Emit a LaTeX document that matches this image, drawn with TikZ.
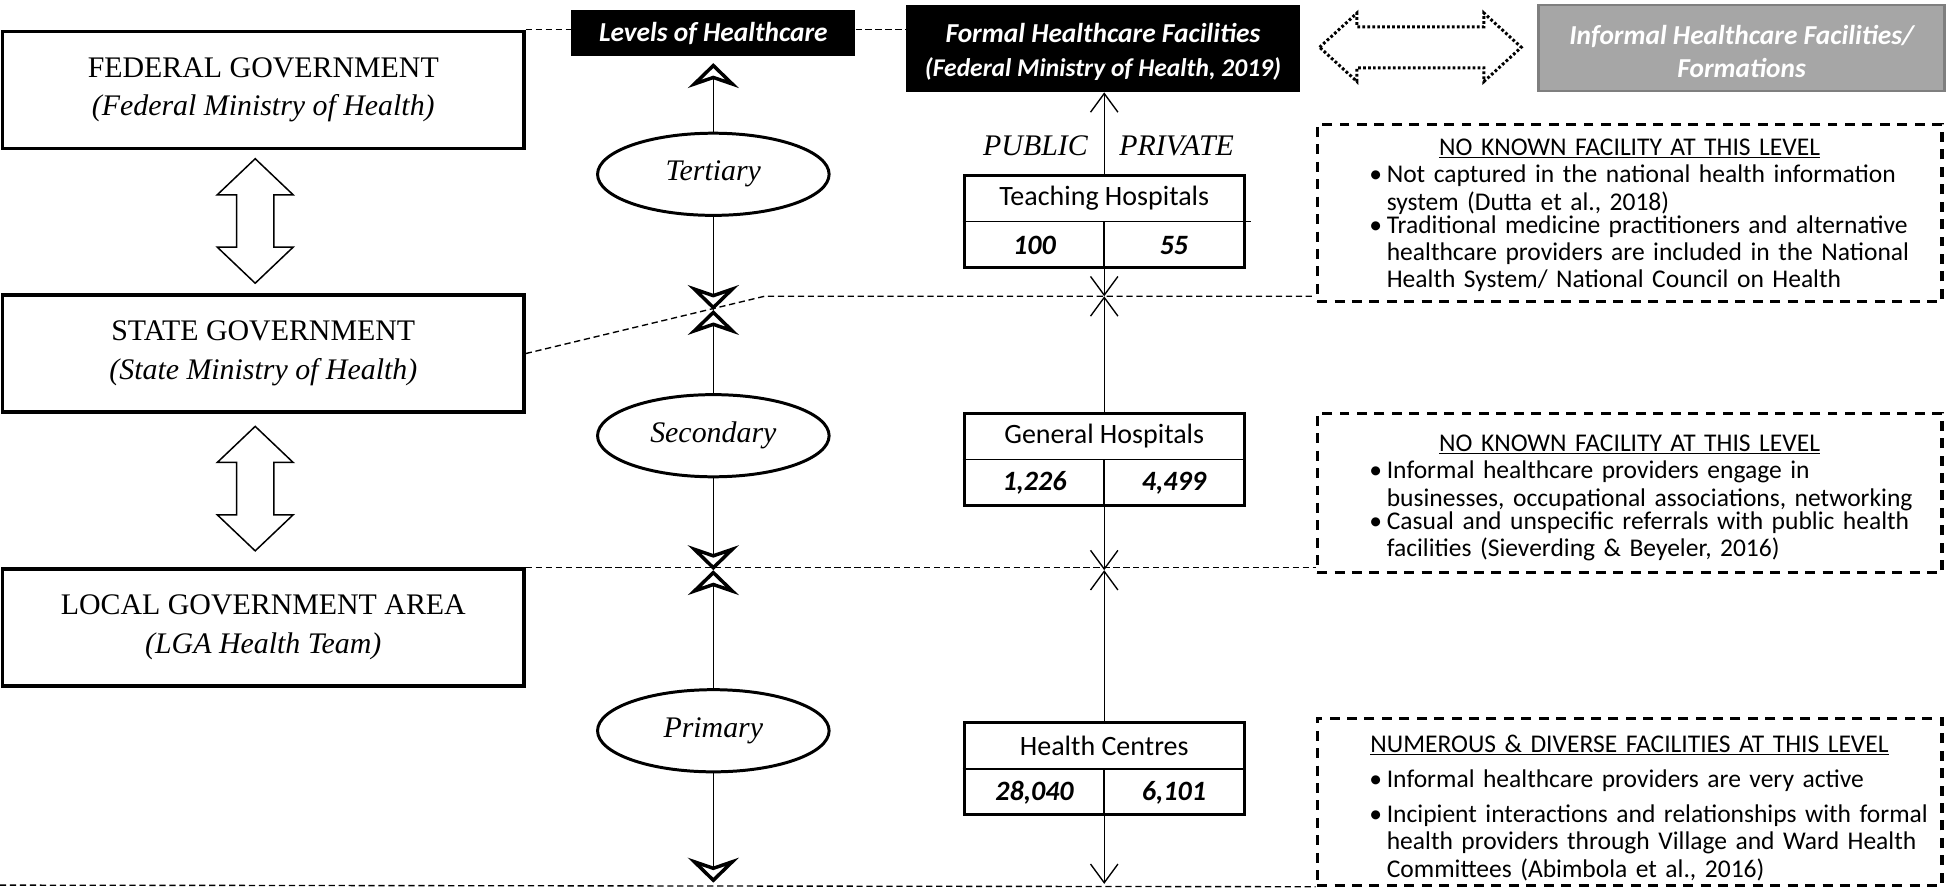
\documentclass[tikz,border=0pt]{standalone}
\usepackage{fontspec}
\setmainfont{Liberation Serif}
\newfontfamily\calibri{Carlito}
\usetikzlibrary{arrows.meta,shapes.geometric}

\definecolor{headgrey}{HTML}{A6A6A6}
\definecolor{edgegrey}{HTML}{7F7F7F}

% bullet line, the lines after the first stay under the text
\newcommand{\bpt}[1]{\par\noindent\hspace*{16pt}\makebox[14pt][l]{\textbullet}\parbox[t]{436pt}{\raggedright\hyphenpenalty=10000 #1}}

\tikzset{
  govbox/.style={draw, line width=2.6pt, minimum width=419pt, minimum height=94pt, align=center, font=\fontsize{24}{31}\selectfont},
  levelell/.style={draw, ellipse, line width=2.4pt, minimum width=186pt, minimum height=66pt, inner sep=0pt, font=\fontsize{24}{28}\selectfont\itshape},
  blackhead/.style={fill=black, text=white, align=center, inner sep=0pt, font=\calibri\bfseries\itshape\fontsize{22}{27}\selectfont},
  greyhead/.style={fill=headgrey, draw=edgegrey, line width=2pt, text=white, align=center, inner sep=0pt, font=\calibri\bfseries\itshape\fontsize{22}{27}\selectfont},
  facbox/.style={draw, line width=2.4pt, minimum width=225pt, minimum height=74pt, inner sep=0pt},
  facline/.style={line width=1.3pt},
  factitle/.style={inner sep=0pt, font=\calibri\fontsize{22.5}{26}\selectfont},
  facnum/.style={inner sep=0pt, font=\calibri\bfseries\itshape\fontsize{22.5}{26}\selectfont},
  sectorlbl/.style={inner sep=0pt, font=\fontsize{24}{28}\selectfont\itshape},
  infobox/.style={draw, line width=2.6pt, dash pattern=on 8pt off 6pt, minimum width=502pt},
  infotext/.style={inner sep=0pt, text width=450pt, align=left, font=\calibri\fontsize{20.5}{22}\selectfont},
  dline/.style={line width=1.1pt, dash pattern=on 5pt off 3pt},
  hollow/.style={line width=1.1pt, -{Stealth[open, length=20pt, width=41pt, inset=7pt, line width=2.8pt]}},
  thinarr/.style={line width=1.1pt, -{Straight Barb[length=15pt, width=22pt]}},
  blockarr/.style={draw, line width=1.2pt},
  dotarrow/.style={line width=2.4pt, dash pattern=on 2.2pt off 1.8pt},
  vbiarrow/.pic={\draw[pic actions] (0,-50) -- (30.5,-21) -- (15,-21) -- (15,21) -- (30.5,21) -- (0,50) -- (-30.5,21) -- (-15,21) -- (-15,-21) -- (-30.5,-21) -- cycle;}
}

\begin{document}
\begin{tikzpicture}[x=1pt,y=-1pt]
    \useasboundingbox (0,0) rectangle (1568,717);
    % government boxes
    \node[govbox] (fed) at (211.5,72) {FEDERAL GOVERNMENT\\\textit{(Federal Ministry of Health)}};
    \node[govbox] (state) at (211.5,284) {STATE GOVERNMENT\\\textit{(State Ministry of Health)}};
    \node[govbox] (lga) at (211.5,504) {LOCAL GOVERNMENT AREA\\\textit{(LGA Health Team)}};
    \pic[blockarr] at (205,177.5) {vbiarrow};
    \pic[blockarr] at (205,392.5) {vbiarrow};

    % headings
    \node[blackhead, minimum width=228pt, minimum height=37pt] (levels) at (573,26.5) {Levels of Healthcare};
    \node[blackhead, minimum width=316pt, minimum height=70pt] (formal) at (886,39) {\rule{0pt}{21pt}Formal Healthcare Facilities\\{\fontsize{20.5}{25}\selectfont(Federal Ministry of Health, 2019)}};
    \node[greyhead, minimum width=326pt, minimum height=69pt] (informal) at (1399,38.5) {\rule{0pt}{21pt}Informal Healthcare Facilities/\\Formations};
    \draw[dotarrow, shift={(1141,38)}] (-81,0) -- (-51,-27.5) -- (-51,-16.5) -- (51,-16.5) -- (51,-27.5) -- (81,0) -- (51,27.5) -- (51,16.5) -- (-51,16.5) -- (-51,27.5) -- cycle;

    % levels of healthcare
    \node[levelell] (tert) at (573,140) {Tertiary};
    \node[levelell] (sec) at (573,350) {Secondary};
    \node[levelell] (prim) at (573,587) {Primary};
    \coordinate (xT) at (573,249);
    \coordinate (xS) at (573,458);
    \coordinate (botM) at (573,709);
    \draw[hollow, shorten >=5.5pt] (tert.north) -- (tert.north |- levels.south);
    \draw[hollow] (tert.south) -- (xT);\draw[hollow] (sec.north) -- (xT);
    \draw[hollow] (sec.south) -- (xS);\draw[hollow] (prim.north) -- (xS);
    \draw[hollow] (prim.south) -- (botM);

    % formal facilities
    \node[sectorlbl, anchor=east] (publbl) at (874,117) {PUBLIC};
    \node[sectorlbl, anchor=west] (privlbl) at (899,117) {PRIVATE};
    \node[facbox] (teach) at (887,178) {};
    \draw[facline] (teach.west) -- ([xshift=4pt]teach.east);\draw[facline] (teach.center) -- (teach.south);
    \node[factitle] (teachT) at ([yshift=18.5pt]teach.center) {Teaching Hospitals};
    \node[facnum] (teachPub) at ([xshift=-56pt,yshift=-19pt]teach.center) {100};
    \node[facnum] (teachPriv) at ([xshift=56pt,yshift=-19pt]teach.center) {55};
    \node[facbox] (gen) at (887,369) {};
    \draw[facline] (gen.west) -- (gen.east);\draw[facline] (gen.center) -- (gen.south);
    \node[factitle] (genT) at ([yshift=18.5pt]gen.center) {General Hospitals};
    \node[facnum] (genPub) at ([xshift=-56pt,yshift=-19pt]gen.center) {1,226};
    \node[facnum] (genPriv) at ([xshift=56pt,yshift=-19pt]gen.center) {4,499};
    \node[facbox] (hc) at (887,617.5) {};
    \draw[facline] (hc.west) -- (hc.east);\draw[facline] (hc.center) -- (hc.south);
    \node[factitle] (hcT) at ([yshift=18.5pt]hc.center) {Health Centres};
    \node[facnum] (hcPub) at ([xshift=-56pt,yshift=-19pt]hc.center) {28,040};
    \node[facnum] (hcPriv) at ([xshift=56pt,yshift=-19pt]hc.center) {6,101};
    \coordinate (xR1) at (887,238);
    \coordinate (xR2) at (887,458);
    \coordinate (botR) at (887,710);
    \draw[thinarr] (teach.north) -- (teach.north |- formal.south);
    \draw[thinarr] (teach.south) -- (xR1);\draw[thinarr] (gen.north) -- (xR1);
    \draw[thinarr] (gen.south) -- (xR2);\draw[thinarr] (hc.north) -- (xR2);
    \draw[thinarr] (hc.south) -- (botR);

    % informal facilities
    \node[infobox, minimum height=142pt] (info1) at (1309,171) {};
    \node[infotext] (info1txt) at ([yshift=-2pt]info1.center) {%
      \makebox[450pt]{\underline{NO KNOWN FACILITY AT THIS LEVEL}}
      \bpt{Not captured in the national health information\\system (Dutta et al., 2018)}
      \bpt{Traditional medicine practitioners and alternative\\healthcare providers are included in the National\\Health System/ National Council on Health}};
    \node[infobox, minimum height=128pt] (info2) at (1309,396) {};
    \node[infotext] (info2txt) at ([yshift=-4pt]info2.center) {%
      \makebox[450pt]{\underline{NO KNOWN FACILITY AT THIS LEVEL}}
      \bpt{Informal healthcare providers engage in\\businesses, occupational associations, networking}
      \bpt{Casual and unspecific referrals with public health\\facilities (Sieverding \& Beyeler, 2016)}};
    \node[infobox, minimum height=134pt] (info3) at (1309,644) {};
    \node[infotext] (info3txt) at ([yshift=-5pt]info3.center) {%
      \makebox[450pt]{\underline{NUMEROUS \& DIVERSE FACILITIES AT THIS LEVEL}}\par\vspace{6pt}
      \bpt{Informal healthcare providers are very active}\par\vspace{6pt}
      \bpt{Incipient interactions and relationships with formal\\health providers through Village and Ward Health\\Committees (Abimbola et al., 2016)}};

    % level boundaries
    \coordinate (bendT) at (614,238);
    \coordinate (baseL) at (0,711);
    \draw[dline] (fed.north east) -- (levels.west |- fed.north east);
    \draw[dline] (levels.east |- fed.north east) -- (formal.west |- fed.north east);
    \draw[dline] (state.east) -- (bendT) -- (bendT -| info1.west);
    \draw[dline] (lga.north east) -- (lga.north east -| info2.west);
    \draw[dline] (baseL) -- (info3.south west);
\end{tikzpicture}
\end{document}
